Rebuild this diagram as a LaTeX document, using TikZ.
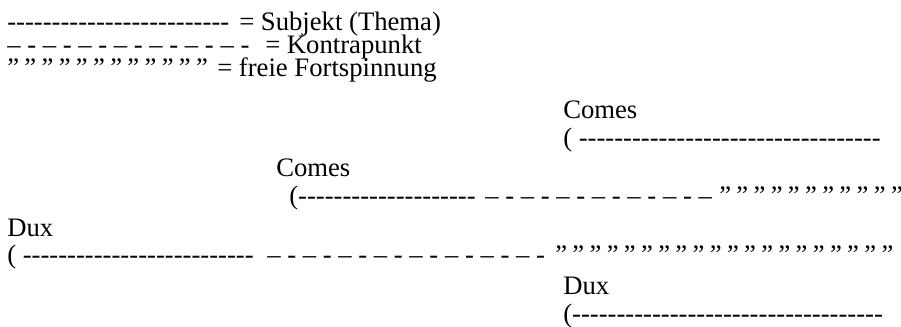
\documentclass[tikz,border=0pt]{standalone}
\usepackage{fontspec}
\newfontfamily\fugefont{Liberation Serif}
\newcommand\engspace{\spaceskip=4pt plus 1pt\relax}
\usetikzlibrary{positioning}
\tikzset{
  zeile/.style={anchor=base west, inner sep=0pt, text height=12pt, text depth=3pt,
    font=\fugefont\fontsize{20}{24}\selectfont},
  frei/.style={zeile, font=\fugefont\fontsize{20}{24}\selectfont\engspace},
}

\begin{document}
\begin{tikzpicture}[x=0.75pt, y=-0.75pt]
\useasboundingbox (0,0) rectangle (901,327);
% Legende
\node[zeile] (subjRun) at (7,31) {-------------------------};
\node[zeile] (subjTxt) at (239,31) {= Subjekt (Thema)};
\node[zeile] (kontraRun) at (7,54) {– - – - – - – - – - – - – -};
\node[zeile] (kontraTxt) at (265,54) {= Kontrapunkt};
\node[frei] (freiRun) at (7,77) {” ” ” ” ” ” ” ” ” ” ” ”};
\node[zeile] (freiTxt) at (217,77) {= freie Fortspinnung};
% Comes oben
\node[zeile] (comesA) at (563,119) {Comes};
\node[zeile] (comesAsubj) at (563,147) {( ----------------------------------};
% Comes Mitte
\node[zeile] (comesB) at (276,177) {Comes};
\node[zeile] (comesBsubj) at (289,205) {(--------------------};
\node[zeile] (comesBkontra) at (485,205) {– - – - – - – - – - – - –};
\node[frei] (comesBfrei) at (719,205) {” ” ” ” ” ” ” ” ” ” ”};
% Dux
\node[zeile] (duxA) at (7,237) {Dux};
\node[zeile] (duxAsubj) at (7,264) {( --------------------------};
\node[zeile] (duxAkontra) at (267,264) {– - – - – - – - – - – - – - – -};
\node[frei] (duxAfrei) at (555,264) {” ” ” ” ” ” ” ” ” ” ” ” ” ” ” ” ” ” ” ”};
% Dux unten
\node[zeile] (duxB) at (563,295) {Dux};
\node[zeile] (duxBsubj) at (563,323) {(-----------------------------------};
\end{tikzpicture}
\end{document}
